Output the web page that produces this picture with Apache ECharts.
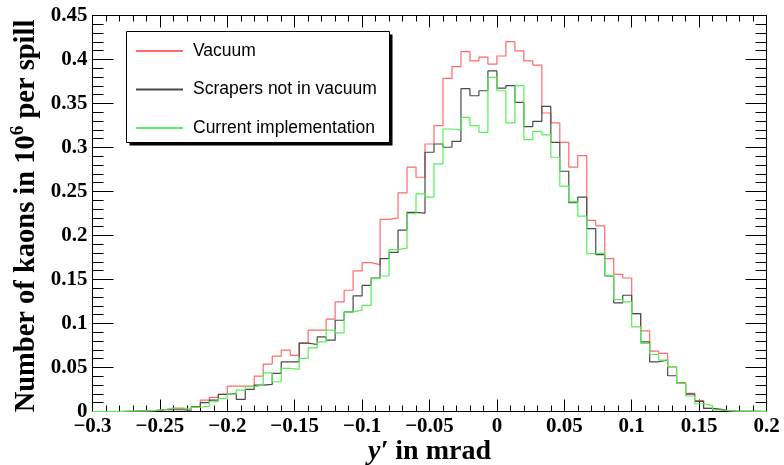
<!DOCTYPE html>
<html>
<head>
<meta charset="utf-8">
<script src="https://cdn.jsdelivr.net/npm/echarts@6/dist/echarts.min.js"></script>
<style>
html,body{margin:0;padding:0;background:#fff;}
#chart{width:784px;height:465px;}
</style>
</head>
<body>
<div id="chart"></div>
<script>
// Histogram binning: 75 bins from -0.3 to 0.2 mrad
const histMin = -0.3;
const histMax = 0.2;
const nBins = 75;

const seriesNames = ['Vacuum', 'Scrapers not in vacuum', 'Current implementation'];

// Number of kaons in 10^6 per spill, per bin (left to right)
const vacuum = [
  0, 0, 0, 0.0003, 0.0005, 0.0008, 0.001, 0.002, 0.0036, 0.0036,
  0.0025, 0.0055, 0.013, 0.0161, 0.0195, 0.0289, 0.0289, 0.0289, 0.0402, 0.0539,
  0.0629, 0.0697, 0.0637, 0.0777, 0.0924, 0.0924, 0.1049, 0.1245, 0.1378, 0.1597,
  0.1691, 0.1669, 0.2183, 0.22, 0.2485, 0.2776, 0.2662, 0.304, 0.3248, 0.3785,
  0.392, 0.409, 0.3985, 0.4027, 0.3948, 0.404, 0.4204, 0.4099, 0.3985, 0.3937,
  0.3392, 0.3279, 0.3059, 0.2776, 0.2908, 0.2171, 0.211, 0.1737, 0.1559, 0.1517,
  0.1113, 0.0916, 0.0686, 0.066, 0.0508, 0.0327, 0.0206, 0.0123, 0.0036, 0.0017,
  0.0006, 0.0003, 0.0002, 0.0001, 0
];
const scrapers = [
  0, 0, 0, 0.0003, 0.0005, 0.0008, 0.001, 0.002, 0.002, 0.002,
  0.0014, 0.0054, 0.01, 0.013, 0.0195, 0.0206, 0.0138, 0.0252, 0.03, 0.0308,
  0.0433, 0.0565, 0.0565, 0.0777, 0.0761, 0.0848, 0.0811, 0.1037, 0.1132, 0.1313,
  0.1434, 0.1517, 0.1737, 0.1808, 0.2062, 0.2262, 0.2254, 0.2946, 0.304, 0.3003,
  0.307, 0.367, 0.3588, 0.3645, 0.387, 0.3675, 0.3702, 0.3513, 0.3237, 0.3297,
  0.3467, 0.3059, 0.273, 0.2372, 0.2436, 0.2077, 0.1782, 0.154, 0.1234, 0.1321,
  0.1113, 0.0791, 0.0565, 0.0584, 0.0406, 0.032, 0.0198, 0.0115, 0.0036, 0.0025,
  0.0006, 0.0003, 0.0002, 0.0001, 0
];
const current = [
  0, 0, 0, 0.0003, 0.0006, 0.0008, 0.0012, 0.002, 0.004, 0.004,
  0.0025, 0.0048, 0.0062, 0.0111, 0.015, 0.0198, 0.0244, 0.0281, 0.03, 0.044,
  0.0338, 0.049, 0.048, 0.0603, 0.0723, 0.0791, 0.0924, 0.0894, 0.1132, 0.1151,
  0.1207, 0.151, 0.154, 0.184, 0.1857, 0.2247, 0.2474, 0.2436, 0.2814, 0.321,
  0.32, 0.3343, 0.3248, 0.3172, 0.3796, 0.3645, 0.3279, 0.3702, 0.309, 0.3184,
  0.3143, 0.2889, 0.256, 0.2387, 0.222, 0.1794, 0.18, 0.1548, 0.1272, 0.1245,
  0.0961, 0.0773, 0.0648, 0.0584, 0.0508, 0.032, 0.0176, 0.0088, 0.0066, 0.0017,
  0.0009, 0.0004, 0.0003, 0.0002, 0.0001
];

const xTickMin = -0.3, xTickMax = 0.2, xTickStep = 0.05;
const yTickMin = 0, yTickMax = 0.45, yTickStep = 0.05;

function histPoints(vals) {
  const w = (histMax - histMin) / nBins;
  const pts = [];
  for (let k = 0; k < vals.length; k++) pts.push([histMin + k * w, vals[k]]);
  pts.push([histMax, vals[vals.length - 1]]);
  return pts;
}
function fmt(v) {
  const r = parseFloat(v.toFixed(3));
  return r < 0 ? '\u2212' + String(-r) : String(r);
}

const chart = echarts.init(document.getElementById('chart'), null, {renderer: 'canvas'});
const serif = 'Liberation Serif';
const sans = 'Liberation Sans';

const axisCommonX = {
  type: 'value', min: xTickMin, max: xTickMax, interval: xTickStep,
  axisLine: {show: true, onZero: false, lineStyle: {color: '#000', width: 1}},
  axisTick: {show: true, inside: true, length: 12, lineStyle: {color: '#000'}},
  minorTick: {show: true, splitNumber: 5, length: 6, lineStyle: {color: '#000'}},
  splitLine: {show: false}
};
const axisCommonY = {
  type: 'value', min: yTickMin, max: yTickMax, interval: yTickStep,
  axisLine: {show: true, onZero: false, lineStyle: {color: '#000', width: 1}},
  axisTick: {show: true, inside: true, length: 21, lineStyle: {color: '#000'}},
  minorTick: {show: true, splitNumber: 5, length: 11, lineStyle: {color: '#000'}},
  splitLine: {show: false}
};

const colors = ['#ff6a6a', '#4a4a4a', '#55f055'];
const datasets = [vacuum, scrapers, current];

chart.setOption({
  animation: false,
  backgroundColor: '#fff',
  grid: {left: 92.5, right: 17.5, top: 15.5, bottom: 53.5, show: false, containLabel: false, outerBoundsMode: 'none'},
  xAxis: [
    Object.assign({}, axisCommonX, {
      position: 'bottom',
      axisLabel: {show: true, margin: 5, fontFamily: serif, fontWeight: 'bold', fontSize: 21, color: '#000', formatter: fmt},
      name: '{i|y\u2032}{n| in mrad}',
      nameLocation: 'middle', nameGap: 26, nameMoveOverlap: false,
      nameTextStyle: {verticalAlign: 'top', rich: {
        i: {fontFamily: serif, fontWeight: 'bold', fontStyle: 'italic', fontSize: 28, color: '#000'},
        n: {fontFamily: serif, fontWeight: 'bold', fontSize: 28, color: '#000'}
      }}
    }),
    Object.assign({}, axisCommonX, {position: 'top', axisLabel: {show: false}})
  ],
  yAxis: [
    Object.assign({}, axisCommonY, {
      position: 'left',
      axisLabel: {show: true, margin: 5, fontFamily: serif, fontWeight: 'bold', fontSize: 21, color: '#000', formatter: fmt}
    }),
    Object.assign({}, axisCommonY, {position: 'right', axisLabel: {show: false}})
  ],
  legend: {
    orient: 'vertical', left: 130, top: 37, padding: 5,
    itemWidth: 47, itemHeight: 18, itemGap: 20.5,
    data: seriesNames,
    itemStyle: {opacity: 0},
    textStyle: {fontFamily: sans, fontSize: 17.5, color: '#000', padding: [0, 0, 0, 5]},
    z: 10
  },
  graphic: [
    {type: 'rect', shape: {x: 129.5, y: 34.5, width: 263, height: 111}, style: {fill: '#000'}, z: 5},
    {type: 'rect', shape: {x: 126.5, y: 31.5, width: 263, height: 111}, style: {fill: '#fff', stroke: '#000', lineWidth: 1}, z: 6},
    {
      type: 'text', x: 25, y: 216, rotation: Math.PI / 2, z: 10,
      style: {
        text: '{n|Number of kaons in 10}{s|6}{n| per spill}',
        align: 'center', verticalAlign: 'middle',
        rich: {
          n: {fontFamily: serif, fontWeight: 'bold', fontSize: 28.5, fill: '#000', lineHeight: 32, verticalAlign: 'bottom'},
          s: {fontFamily: serif, fontWeight: 'bold', fontSize: 19, fill: '#000', lineHeight: 32, verticalAlign: 'top'}
        }
      }
    }
  ],
  series: datasets.map((d, i) => ({
    name: seriesNames[i],
    type: 'line', step: 'end', symbol: 'none', showSymbol: false,
    xAxisIndex: 0, yAxisIndex: 0,
    data: histPoints(d),
    lineStyle: {color: colors[i], width: 1.2},
    itemStyle: {color: colors[i]},
    z: 2 + i
  }))
});
</script>
</body>
</html>
